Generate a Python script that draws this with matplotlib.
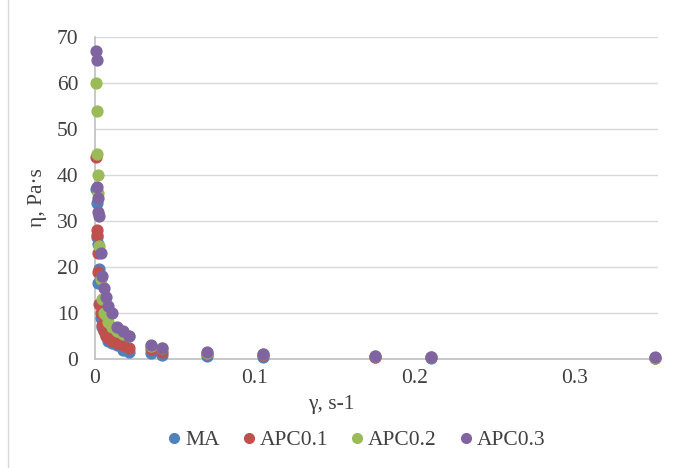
import matplotlib
matplotlib.use("Agg")
import matplotlib.pyplot as plt
from matplotlib.lines import Line2D

plt.rcParams['font.family'] = ['Liberation Serif', 'DejaVu Serif']

# shear rate, s-1
gamma = [0.0007, 0.00105, 0.0014, 0.00175, 0.0021, 0.0028, 0.0035, 0.0042,
         0.0056, 0.007, 0.0084, 0.0105, 0.014, 0.0175, 0.021,
         0.035, 0.042, 0.07, 0.105, 0.175, 0.21, 0.35]

# viscosity, Pa*s
ma = [37, 34, 26.5, 25, 16.5, 19.5, 9, 7, 6, 5, 4, 3.5, 3, 2, 1.5,
      1.3, 0.9, 0.7, 0.5, 0.35, 0.3, 0.25]
apc01 = [44, 28, 27, 23, 19, 12, 10, 7.5, 6, 5, 4.5, 4, 3.5, 3, 2.4,
         2.2, 1.6, 1.1, 0.8, 0.45, 0.4, 0.3]
apc02 = [60, 54, 44.5, 40, 36, 24.5, 17.5, 13, 10, 9.5, 8, 7, 6, 5.5, 5,
         2.8, 2.3, 1.4, 1.0, 0.55, 0.45, 0.3]
apc03 = [67, 65, 37.5, 35, 32, 31, 23, 18, 15.5, 13.5, 11.5, 10, 7, 6, 5,
         3, 2.5, 1.5, 1.1, 0.6, 0.5, 0.35]

names = ['MA', 'APC0.1', 'APC0.2', 'APC0.3']
colors = ['#4F81BD', '#C0504D', '#9BBB59', '#8064A2']
fs = 15.5

fig = plt.figure(figsize=(6.8, 4.68), dpi=100)
ax = fig.add_axes([0.1397, 0.2329, 0.8279, 0.688])

for vals, name, c in zip([ma, apc01, apc02, apc03], names, colors):
    ax.plot(gamma, vals, 'o', color=c, ms=7.8, mec=c, label=name, clip_on=False, zorder=3)

ax.set_xlim(0, 0.352)
ax.set_ylim(0, 70)
ax.set_xticks([0, 0.1, 0.2, 0.3])
ax.set_xticklabels(['0', '0.1', '0.2', '0.3'])
ax.set_yticks(range(0, 71, 10))
ax.grid(axis='y', color='#D9D9D9', lw=1)
ax.set_axisbelow(True)
for s in ['top', 'right']:
    ax.spines[s].set_visible(False)
for s in ['left', 'bottom']:
    ax.spines[s].set_color('#BFBFBF')
    ax.spines[s].set_linewidth(1.2)
ax.tick_params(length=0, labelsize=fs, colors='#404040')
ax.tick_params(axis='x', pad=7)
ax.tick_params(axis='y', pad=12)

fig.text(331 / 680, 1 - 405 / 468, 'γ, s-1', fontsize=fs, color='#404040',
         ha='center', va='center')
ax.set_ylabel('η, Pa·s', fontsize=fs, color='#404040', labelpad=7)

handles = [Line2D([], [], marker='o', ls='', color=c, ms=7) for c in colors]
fig.legend(handles, names, loc='center', bbox_to_anchor=(357 / 680, 1 - 440 / 468), ncol=4,
           frameon=False, fontsize=fs, handlelength=0.5, handletextpad=0.25,
           columnspacing=1.1, labelcolor='#404040')

# chart border edge
fig.add_artist(Line2D([8 / 680, 8 / 680], [0, 1], color='#D9D9D9', lw=1))

fig.savefig('out.png', dpi=100)
